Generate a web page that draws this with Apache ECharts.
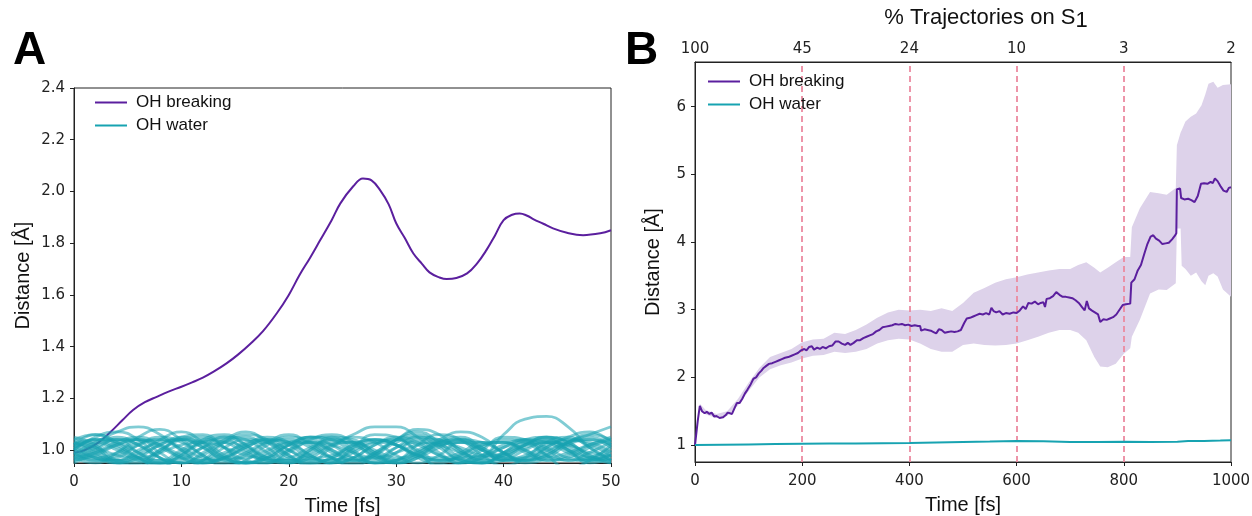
<!DOCTYPE html>
<html>
<head>
<meta charset="utf-8">
<script src="https://cdn.jsdelivr.net/npm/echarts@6/dist/echarts.min.js"></script>
<style>
  html, body { margin: 0; padding: 0; background: #fff; }
  #chart { width: 1252px; height: 516px; }
</style>
</head>
<body>
<div id="chart"></div>
<script>
// ---- panel A: single trajectory ----
const breakTime = [0, 1, 2.3, 3.4, 4.5, 5.5, 6.6, 7.7, 8.8, 10, 11, 12, 13, 14.2, 15.3, 16.4, 17.6, 18.9, 20, 21, 22, 22.9, 24, 24.8, 26, 26.9, 27.7, 28.5, 29.3, 30, 30.8, 31.6, 32.4, 33.1, 34, 34.7, 35.6, 36.6, 37.5, 38.4, 39.2, 40, 40.8, 41.5, 42.2, 42.8, 43.7, 44.6, 45.9, 47.4, 49, 50];
const breakDist = [0.99, 1.0, 1.03, 1.07, 1.115, 1.155, 1.185, 1.206, 1.226, 1.245, 1.262, 1.28, 1.303, 1.335, 1.37, 1.41, 1.46, 1.53, 1.6, 1.677, 1.745, 1.81, 1.89, 1.954, 2.02, 2.05, 2.043, 2.005, 1.95, 1.877, 1.82, 1.76, 1.72, 1.687, 1.668, 1.661, 1.665, 1.683, 1.72, 1.773, 1.83, 1.889, 1.91, 1.915, 1.906, 1.892, 1.875, 1.857, 1.84, 1.831, 1.838, 1.85];

const waterTime = [0, 2, 4, 6, 8, 10, 12, 14, 16, 18, 20, 22, 24, 26, 28, 30, 32, 34, 36, 38, 40, 42, 44, 46, 48, 50];
const waterTraces = [
  [1.00, 1.05, 1.07, 1.04, 0.97, 0.93, 0.96, 1.03, 1.06, 1.04, 0.98, 0.94, 0.95, 1.01, 1.06, 1.05, 0.99, 0.94, 0.95, 1.00, 1.05, 1.04, 0.98, 0.93, 0.96, 1.02],
  [1.04, 1.01, 0.95, 0.94, 0.99, 1.05, 1.06, 1.01, 0.95, 0.95, 1.00, 1.05, 1.05, 1.00, 0.95, 0.96, 1.02, 1.06, 1.04, 0.98, 0.94, 0.97, 1.03, 1.05, 1.01, 0.96],
  [0.97, 0.95, 0.99, 1.05, 1.08, 1.04, 0.98, 0.94, 0.96, 1.02, 1.05, 1.03, 0.97, 0.94, 0.98, 1.04, 1.07, 1.03, 0.97, 0.95, 0.99, 1.04, 1.05, 1.00, 0.95, 0.97],
  [1.02, 1.06, 1.03, 0.97, 0.94, 0.98, 1.04, 1.06, 1.02, 0.96, 0.95, 1.00, 1.05, 1.04, 0.99, 0.95, 0.97, 1.03, 1.05, 1.01, 0.96, 0.96, 1.01, 1.05, 1.07, 1.03],
  [0.96, 1.00, 1.04, 1.04, 0.99, 0.95, 0.96, 1.01, 1.04, 1.03, 0.98, 0.95, 0.97, 1.02, 1.04, 1.02, 0.98, 0.96, 0.97, 0.98, 1.06, 1.12, 1.13, 1.09, 1.01, 0.96],
  [1.01, 1.03, 1.00, 0.96, 0.95, 0.99, 1.03, 1.04, 1.00, 0.96, 0.96, 1.00, 1.04, 1.03, 0.98, 0.95, 0.97, 1.01, 1.04, 1.03, 0.99, 0.95, 0.97, 1.02, 1.04, 1.02],
  [0.99, 0.96, 0.97, 1.02, 1.05, 1.03, 0.98, 0.95, 0.98, 1.03, 1.06, 1.02, 0.97, 0.95, 0.99, 1.04, 1.06, 1.02, 0.96, 0.95, 0.99, 1.03, 1.04, 1.00, 0.96, 0.98],
  [1.05, 1.02, 0.96, 0.95, 1.00, 1.04, 1.03, 0.98, 0.95, 0.97, 1.02, 1.05, 1.02, 0.97, 0.95, 0.99, 1.04, 1.04, 1.00, 0.96, 0.97, 1.02, 1.05, 1.03, 0.98, 0.95],
  [0.98, 1.02, 1.05, 1.02, 0.97, 0.95, 0.98, 1.03, 1.05, 1.01, 0.96, 0.96, 1.01, 1.05, 1.03, 0.98, 0.95, 0.98, 1.03, 1.03, 0.99, 0.96, 0.98, 1.03, 1.06, 1.04],
  [1.03, 0.99, 0.95, 0.97, 1.02, 1.04, 1.01, 0.96, 0.95, 0.99, 1.03, 1.04, 1.00, 0.96, 0.96, 1.01, 1.05, 1.04, 0.99, 0.95, 0.96, 1.00, 1.03, 1.02, 0.97, 0.95],
  [1.00, 1.04, 1.04, 0.99, 0.95, 0.96, 1.01, 1.05, 1.04, 0.99, 0.95, 0.97, 1.02, 1.06, 1.09, 1.09, 1.05, 0.99, 0.95, 0.97, 1.01, 1.03, 1.00, 0.96, 0.97, 1.01],
  [0.96, 0.98, 1.02, 1.04, 1.01, 0.97, 0.95, 0.98, 1.03, 1.04, 1.00, 0.96, 0.96, 1.00, 1.03, 1.02, 0.98, 0.96, 0.98, 1.02, 1.03, 1.00, 0.96, 0.98, 1.02, 1.05],
  [1.02, 0.98, 0.96, 0.99, 1.04, 1.07, 1.03, 0.97, 0.95, 0.98, 1.02, 1.03, 0.99, 0.96, 0.98, 1.03, 1.05, 1.01, 0.96, 0.95, 0.98, 1.02, 1.04, 1.01, 0.97, 0.96],
  [0.99, 1.03, 1.07, 1.09, 1.06, 1.00, 0.95, 0.97, 1.01, 1.04, 1.03, 0.98, 0.95, 0.97, 1.02, 1.05, 1.03, 0.98, 0.95, 0.97, 1.01, 1.04, 1.03, 0.99, 0.96, 0.98],
  [1.01, 0.97, 0.95, 0.98, 1.02, 1.05, 1.02, 0.97, 0.95, 0.97, 1.02, 1.05, 1.04, 0.99, 0.95, 0.96, 1.00, 1.03, 1.04, 1.00, 0.96, 0.97, 1.01, 1.04, 1.03, 0.99],
  [0.97, 1.01, 1.04, 1.02, 0.97, 0.95, 0.99, 1.04, 1.07, 1.03, 0.97, 0.95, 0.97, 1.01, 1.04, 1.02, 0.97, 0.95, 0.98, 1.02, 1.03, 0.99, 0.96, 0.97, 1.01, 1.04],
  [1.04, 1.06, 1.02, 0.97, 0.95, 0.98, 1.03, 1.05, 1.02, 0.97, 0.95, 0.98, 1.02, 1.03, 1.00, 0.97, 0.99, 1.04, 1.07, 1.05, 0.99, 0.96, 0.98, 1.03, 1.06, 1.09],
  [0.98, 0.96, 0.98, 1.02, 1.04, 1.01, 0.97, 0.96, 0.99, 1.03, 1.04, 1.01, 0.97, 0.96, 0.99, 1.04, 1.08, 1.06, 1.00, 0.96, 0.98, 1.02, 1.05, 1.03, 0.98, 0.96],
  [1.03, 1.00, 0.96, 0.96, 1.00, 1.04, 1.05, 1.01, 0.96, 0.95, 0.99, 1.04, 1.06, 1.03, 0.97, 0.95, 0.98, 1.02, 1.03, 1.00, 0.97, 0.97, 1.00, 1.03, 1.05, 1.02],
  [0.95, 0.99, 1.03, 1.05, 1.02, 0.97, 0.95, 0.97, 1.02, 1.05, 1.03, 0.98, 0.95, 0.97, 1.02, 1.04, 1.02, 0.98, 0.96, 0.98, 1.02, 1.04, 1.01, 0.97, 0.96, 1.00],
  [1.02, 1.04, 1.01, 0.97, 0.96, 1.00, 1.04, 1.03, 0.99, 0.96, 0.97, 1.01, 1.04, 1.02, 0.98, 0.96, 0.99, 1.03, 1.04, 1.01, 0.97, 0.96, 0.99, 1.03, 1.04, 1.01],
  [0.99, 0.97, 0.99, 1.03, 1.04, 1.00, 0.96, 0.97, 1.01, 1.04, 1.02, 0.97, 0.96, 0.99, 1.03, 1.04, 1.00, 0.96, 0.97, 1.01, 1.04, 1.03, 0.98, 0.96, 0.99, 1.03],
  [1.01, 1.04, 1.03, 0.99, 0.96, 0.97, 1.01, 1.03, 1.01, 0.97, 0.96, 0.99, 1.03, 1.03, 0.99, 0.96, 0.98, 1.02, 1.03, 1.00, 0.96, 0.98, 1.02, 1.04, 1.02, 0.98],
  [0.97, 0.99, 1.02, 1.04, 1.02, 0.98, 0.96, 0.99, 1.02, 1.03, 1.00, 0.97, 0.98, 1.02, 1.04, 1.02, 0.98, 0.97, 0.99, 1.03, 1.03, 1.00, 0.97, 0.99, 1.02, 1.04],
  [1.00, 0.97, 0.96, 1.00, 1.03, 1.04, 1.01, 0.97, 0.97, 1.00, 1.03, 1.03, 1.00, 0.97, 0.97, 1.01, 1.03, 1.02, 0.99, 0.97, 0.99, 1.02, 1.03, 1.00, 0.97, 0.98],
  [1.03, 1.01, 0.98, 0.97, 0.99, 1.02, 1.03, 1.01, 0.98, 0.97, 1.00, 1.03, 1.02, 0.99, 0.97, 0.99, 1.02, 1.03, 1.01, 0.98, 0.98, 1.01, 1.03, 1.02, 0.99, 0.98]
];

// ---- panel B: ensemble average ----
const meanTime = [0, 5, 9, 13, 18, 22, 27, 31, 36, 40, 46, 52, 57, 61, 65, 69, 74, 78, 83, 88, 93, 98, 104, 109, 114, 119, 124, 128, 133, 138, 144, 150, 156, 162, 168, 174, 180, 186, 192, 198, 204, 208, 213, 218, 222, 228, 233, 238, 244, 250, 256, 262, 268, 274, 280, 285, 290, 296, 302, 308, 314, 320, 326, 332, 338, 344, 350, 356, 362, 368, 374, 380, 386, 392, 398, 404, 410, 416, 420, 422, 428, 434, 440, 445, 450, 455, 460, 466, 472, 478, 484, 490, 496, 502, 507, 513, 519, 525, 531, 537, 543, 549, 553, 557, 562, 568, 574, 580, 587, 594, 600, 606, 612, 617, 622, 628, 634, 640, 645, 650, 653, 656, 662, 668, 674, 680, 686, 692, 698, 704, 710, 716, 722, 727, 731, 735, 740, 746, 752, 756, 762, 768, 774, 780, 786, 792, 798, 804, 812, 814, 820, 826, 832, 838, 844, 850, 855, 860, 866, 872, 878, 884, 890, 895, 898, 899, 902, 905, 907, 913, 920, 926, 932, 938, 944, 950, 956, 962, 966, 970, 975, 980, 986, 992, 996, 1000];
const meanDist = [1.00, 1.35, 1.58, 1.50, 1.47, 1.49, 1.46, 1.48, 1.42, 1.43, 1.40, 1.41, 1.44, 1.48, 1.47, 1.46, 1.55, 1.62, 1.62, 1.68, 1.76, 1.82, 1.90, 1.98, 2.00, 2.06, 2.10, 2.14, 2.17, 2.20, 2.21, 2.23, 2.25, 2.27, 2.29, 2.30, 2.32, 2.34, 2.36, 2.40, 2.42, 2.40, 2.45, 2.46, 2.41, 2.44, 2.42, 2.45, 2.43, 2.46, 2.47, 2.53, 2.53, 2.50, 2.48, 2.51, 2.48, 2.51, 2.55, 2.55, 2.58, 2.60, 2.62, 2.64, 2.68, 2.70, 2.74, 2.75, 2.76, 2.77, 2.79, 2.78, 2.79, 2.77, 2.78, 2.76, 2.77, 2.76, 2.76, 2.69, 2.71, 2.70, 2.69, 2.67, 2.65, 2.71, 2.70, 2.66, 2.67, 2.68, 2.67, 2.68, 2.70, 2.80, 2.87, 2.88, 2.90, 2.92, 2.94, 2.93, 2.95, 2.93, 3.03, 2.98, 2.96, 2.98, 2.93, 2.95, 2.94, 2.96, 2.95, 2.99, 3.05, 3.01, 3.10, 3.09, 3.12, 3.08, 3.10, 3.11, 3.04, 3.16, 3.17, 3.20, 3.26, 3.22, 3.19, 3.19, 3.18, 3.17, 3.14, 3.10, 3.04, 2.99, 3.13, 3.02, 2.99, 2.96, 2.93, 2.82, 2.86, 2.85, 2.87, 2.89, 2.93, 3.00, 3.07, 3.08, 3.09, 3.40, 3.45, 3.58, 3.66, 3.82, 3.97, 4.08, 4.10, 4.05, 4.02, 3.97, 3.98, 3.99, 4.04, 4.09, 4.13, 4.78, 4.80, 4.79, 4.65, 4.63, 4.64, 4.62, 4.59, 4.68, 4.86, 4.87, 4.86, 4.89, 4.87, 4.94, 4.90, 4.83, 4.76, 4.74, 4.80, 4.81];

const bandTime = [0, 5, 9, 20, 40, 60, 80, 100, 120, 140, 160, 180, 200, 220, 240, 260, 280, 300, 320, 340, 360, 380, 400, 420, 440, 460, 480, 500, 520, 540, 560, 580, 600, 620, 640, 660, 680, 700, 715, 730, 745, 756, 770, 785, 800, 812, 815, 830, 849, 865, 880, 897, 899, 906, 908, 915, 925, 935, 945, 952, 958, 967, 975, 985, 1000];
const bandLow = [1.00, 1.33, 1.55, 1.45, 1.40, 1.43, 1.58, 1.80, 2.00, 2.12, 2.18, 2.22, 2.28, 2.32, 2.33, 2.38, 2.36, 2.38, 2.42, 2.50, 2.55, 2.57, 2.56, 2.50, 2.42, 2.38, 2.38, 2.48, 2.50, 2.48, 2.47, 2.48, 2.50, 2.55, 2.60, 2.66, 2.70, 2.70, 2.66, 2.55, 2.30, 2.16, 2.15, 2.20, 2.35, 2.43, 2.60, 2.85, 3.24, 3.30, 3.29, 3.39, 4.20, 4.20, 3.65, 3.60, 3.50, 3.55, 3.42, 3.36, 3.50, 3.54, 3.49, 3.30, 3.19];
const bandHigh = [1.00, 1.37, 1.61, 1.52, 1.46, 1.50, 1.68, 1.92, 2.14, 2.30, 2.36, 2.42, 2.52, 2.56, 2.57, 2.66, 2.64, 2.70, 2.78, 2.88, 2.96, 3.00, 2.99, 3.00, 2.98, 3.02, 2.98, 3.10, 3.25, 3.32, 3.40, 3.45, 3.48, 3.52, 3.55, 3.58, 3.60, 3.60, 3.66, 3.70, 3.62, 3.55, 3.62, 3.70, 3.78, 3.78, 4.22, 4.50, 4.74, 4.72, 4.70, 4.80, 5.43, 5.62, 5.65, 5.78, 5.85, 5.90, 6.02, 6.18, 6.34, 6.37, 6.28, 6.32, 6.33];

const waterMeanTime = [0, 50, 100, 150, 200, 250, 300, 350, 400, 450, 500, 550, 600, 650, 700, 750, 800, 850, 900, 920, 950, 980, 1000];
const waterMeanDist = [1.00, 1.005, 1.01, 1.015, 1.02, 1.022, 1.025, 1.028, 1.03, 1.038, 1.045, 1.052, 1.06, 1.055, 1.045, 1.045, 1.05, 1.045, 1.05, 1.06, 1.062, 1.066, 1.07];

const dashTimes = [200, 400, 600, 800];
const topTicks = [0, 200, 400, 600, 800, 1000];
const topLabels = ['100', '45', '24', '10', '3', '2'];

const purple = '#5b1f9e';
const teal = '#17a3b1';
const lilac = '#ddd2ea';
const pink = '#ec8aa0';
const tickFont = 'DejaVu Sans';
const textFont = 'Liberation Sans';

function pairs(xs, ys) {
  return xs.map(function (x, i) { return [x, ys[i]]; });
}

const chart = echarts.init(document.getElementById('chart'), null, { renderer: 'canvas' });

const axisLine = { show: true, lineStyle: { color: '#222', width: 1 } };
const axisTick = { show: true, inside: false, length: 4, lineStyle: { color: '#222' } };
const labelStyle = { fontFamily: tickFont, fontSize: 15, color: '#222' };
const nameStyle = { fontFamily: textFont, fontSize: 20, color: '#111' };

let series = [];

// left: breaking OH sits under the water lines
series.push({
  name: 'OH breaking', type: 'line', xAxisIndex: 0, yAxisIndex: 0,
  data: pairs(breakTime, breakDist), smooth: 0.4, symbol: 'none', z: 2,
  lineStyle: { color: purple, width: 2 }, itemStyle: { color: purple }
});
waterTraces.forEach(function (tr) {
  series.push({
    name: 'OH water', type: 'line', xAxisIndex: 0, yAxisIndex: 0,
    data: pairs(waterTime, tr), smooth: 0.5, symbol: 'none', z: 3, silent: true,
    lineStyle: { color: teal, width: 2.8, opacity: 0.55 }, itemStyle: { color: teal }
  });
});

// right: std band as one polygon
series.push({
  name: 'band', type: 'custom', xAxisIndex: 1, yAxisIndex: 1, z: 1, silent: true,
  data: [[0, 1]],
  renderItem: function (params, api) {
    let pts = [];
    for (let i = 0; i < bandTime.length; i++) pts.push(api.coord([bandTime[i], bandHigh[i]]));
    for (let i = bandTime.length - 1; i >= 0; i--) pts.push(api.coord([bandTime[i], bandLow[i]]));
    return { type: 'polygon', shape: { points: pts }, style: { fill: lilac } };
  }
});
series.push({
  name: 'OH breaking', type: 'line', xAxisIndex: 1, yAxisIndex: 1,
  data: pairs(meanTime, meanDist), symbol: 'none', z: 4,
  lineStyle: { color: purple, width: 2 }, itemStyle: { color: purple }
});
series.push({
  name: 'OH water', type: 'line', xAxisIndex: 1, yAxisIndex: 1,
  data: pairs(waterMeanTime, waterMeanDist), symbol: 'none', z: 4,
  lineStyle: { color: teal, width: 2 }, itemStyle: { color: teal },
  markLine: {
    silent: true, symbol: ['none', 'none'], z: 2, label: { show: false },
    lineStyle: { color: pink, type: [6, 4], width: 1.8 },
    data: dashTimes.map(function (t) { return { xAxis: t }; })
  }
});

const legendBase = {
  orient: 'vertical', icon: 'rect', itemWidth: 32, itemHeight: 2, itemGap: 6,
  data: ['OH breaking', 'OH water'], selectedMode: false,
  textStyle: { fontFamily: textFont, fontSize: 17, color: '#111', padding: [0, 0, 0, 4] },
  itemStyle: { opacity: 1 }
};

const option = {
  animation: false,
  backgroundColor: '#fff',
  title: [
    { text: 'A', left: 8, top: 23, textStyle: { fontFamily: textFont, fontSize: 46, fontWeight: 'bold', color: '#000' } },
    { text: 'B', left: 620, top: 23, textStyle: { fontFamily: textFont, fontSize: 46, fontWeight: 'bold', color: '#000' } }
  ],
  legend: [
    Object.assign({ left: 90, top: 89 }, legendBase),
    Object.assign({ left: 703, top: 68 }, legendBase)
  ],
  grid: [
    { left: 74, top: 88, right: 641, bottom: 53, show: true, borderColor: '#222', borderWidth: 1, outerBoundsMode: 'none', containLabel: false },
    { left: 695, top: 62, right: 21, bottom: 54, show: true, borderColor: '#222', borderWidth: 1, outerBoundsMode: 'none', containLabel: false }
  ],
  xAxis: [
    {
      type: 'value', gridIndex: 0, min: 0, max: 50, interval: 10,
      name: 'Time [fs]', nameLocation: 'middle', nameGap: 33, nameTextStyle: nameStyle,
      axisLine: axisLine, axisTick: axisTick, splitLine: { show: false },
      axisLabel: Object.assign({ margin: 12 }, labelStyle)
    },
    {
      type: 'value', gridIndex: 1, min: 0, max: 1000, interval: 200,
      name: 'Time [fs]', nameLocation: 'middle', nameGap: 33, nameTextStyle: nameStyle,
      axisLine: axisLine, axisTick: axisTick, splitLine: { show: false },
      axisLabel: Object.assign({ margin: 12, formatter: function (v) { return String(v); } }, labelStyle)
    },
    {
      type: 'value', gridIndex: 1, position: 'top', min: 0, max: 1000, interval: 200,
      name: '% Trajectories on S{sub|1}', nameLocation: 'middle', nameGap: 30,
      nameTextStyle: Object.assign({}, nameStyle, {
        fontSize: 22, padding: [0, 0, 0, 46],
        rich: { sub: { fontFamily: textFont, fontSize: 22, color: '#111', padding: [7, 0, 0, 0] } }
      }),
      axisLine: axisLine, axisTick: { show: false }, splitLine: { show: false },
      axisLabel: Object.assign({
        margin: 5,
        formatter: function (v) { const i = topTicks.indexOf(v); return i >= 0 ? topLabels[i] : ''; }
      }, labelStyle)
    }
  ],
  yAxis: [
    {
      type: 'value', gridIndex: 0, min: 0.95, max: 2.4,
      name: 'Distance [Å]', nameLocation: 'middle', nameGap: 41, nameTextStyle: nameStyle,
      axisLine: axisLine, splitLine: { show: false },
      axisTick: Object.assign({ customValues: [1.0, 1.2, 1.4, 1.6, 1.8, 2.0, 2.2, 2.4] }, axisTick),
      axisLabel: Object.assign({
        margin: 9, customValues: [1.0, 1.2, 1.4, 1.6, 1.8, 2.0, 2.2, 2.4],
        formatter: function (v) { return v.toFixed(1); }
      }, labelStyle)
    },
    {
      type: 'value', gridIndex: 1, min: 0.75, max: 6.66,
      name: 'Distance [Å]', nameLocation: 'middle', nameGap: 32, nameTextStyle: nameStyle,
      axisLine: axisLine, splitLine: { show: false },
      axisTick: Object.assign({ customValues: [1, 2, 3, 4, 5, 6] }, axisTick),
      axisLabel: Object.assign({
        margin: 9, customValues: [1, 2, 3, 4, 5, 6],
        formatter: function (v) { return String(Math.round(v)); }
      }, labelStyle)
    }
  ],
  series: series
};

chart.setOption(option);
</script>
</body>
</html>
